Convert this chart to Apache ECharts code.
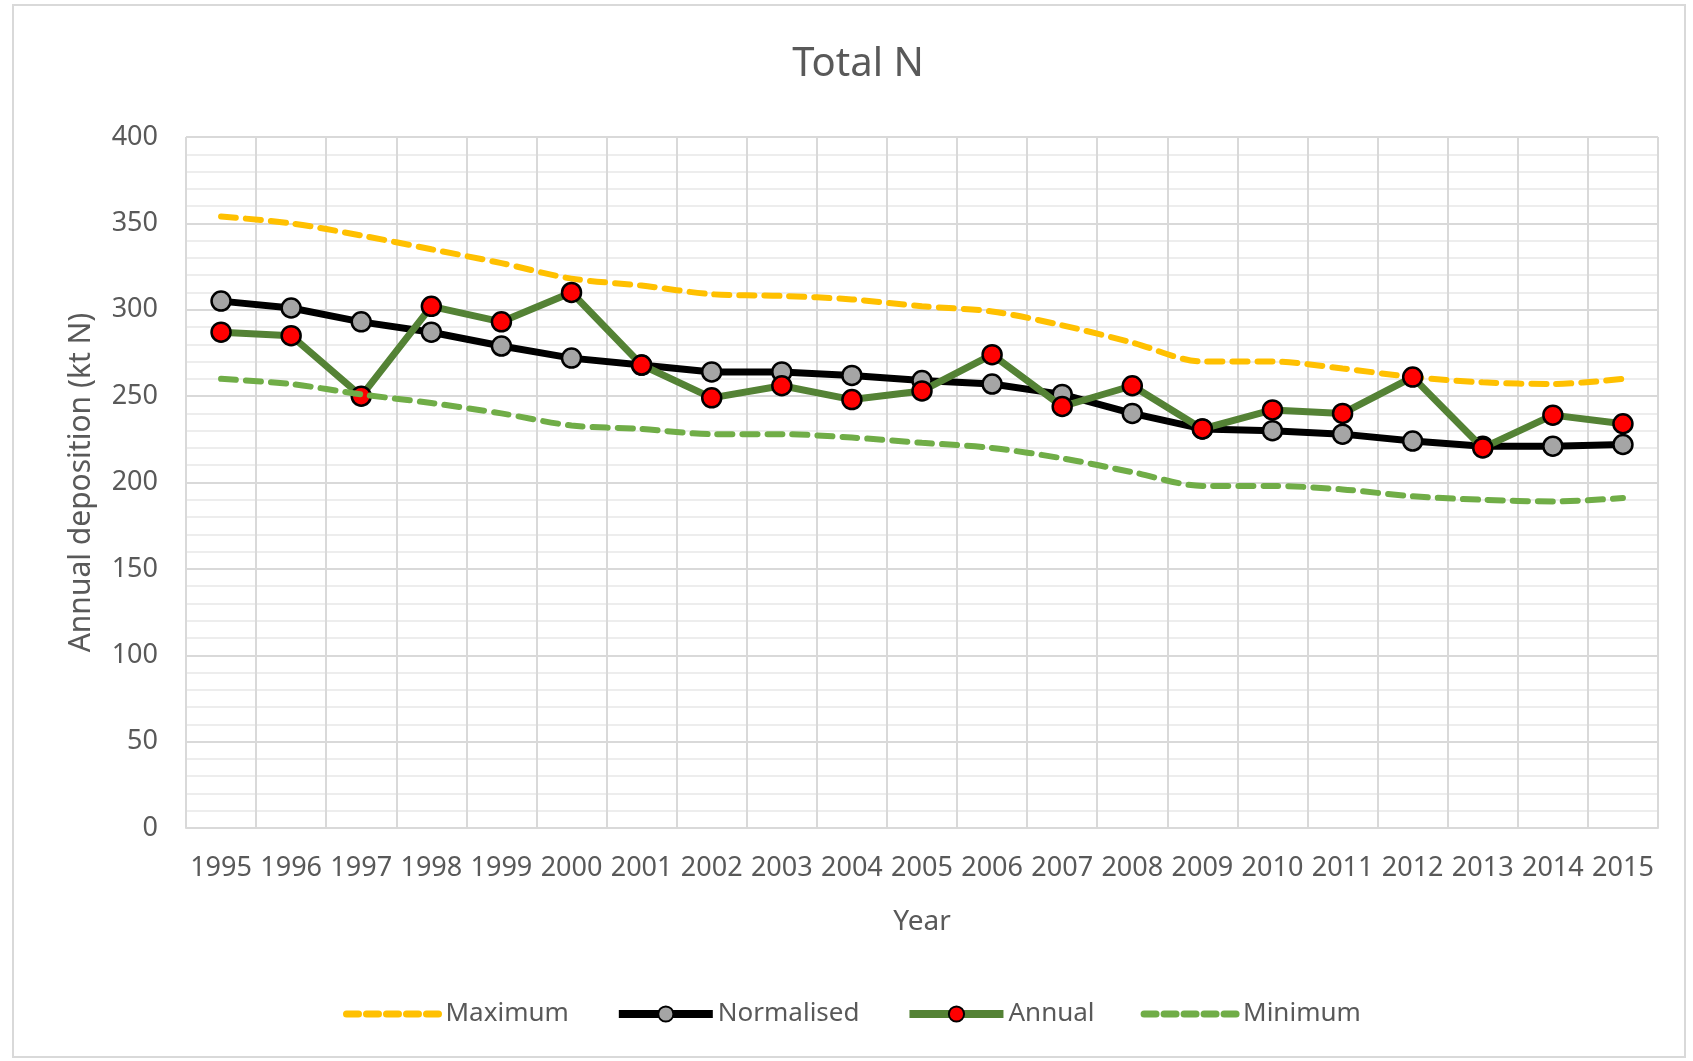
<!DOCTYPE html>
<html>
<head>
<meta charset="utf-8">
<title>Total N</title>
<script src="https://cdn.jsdelivr.net/npm/echarts@6/dist/echarts.min.js"></script>
<style>
    html, body { margin: 0; padding: 0; background: #fff; }
    #chart { width: 1693px; height: 1061px; }
</style>
</head>
<body>
<div id="chart"></div>
<script>
// values (kt N)
var years = ['1995','1996','1997','1998','1999','2000','2001','2002','2003','2004','2005',
             '2006','2007','2008','2009','2010','2011','2012','2013','2014','2015'];
var maximum    = [354, 350, 343, 335, 327, 318, 314, 309, 308, 306, 302, 299, 291, 281, 270, 270, 266, 261, 258, 257, 260];
var normalised = [305, 301, 293, 287, 279, 272, 268, 264, 264, 262, 259, 257, 251, 240, 231, 230, 228, 224, 221, 221, 222];
var annual     = [287, 285, 250, 302, 293, 310, 268, 249, 256, 248, 253, 274, 244, 256, 231, 242, 240, 261, 220, 239, 234];
var minimum    = [260, 257, 251, 246, 240, 233, 231, 228, 228, 226, 223, 220, 214, 206, 198, 198, 196, 192, 190, 189, 191];
var yTicks = { min: 0, max: 400, step: 50 };

// half-band categories, used only for the light grid lines through the points
var halfBands = [];
for (var i = 0; i < years.length * 2; i++) {
    halfBands.push(String(i));
}

var font = '"Noto Sans", "Open Sans", sans-serif';
var grey = '#595959';
var dash = [15, 10];

var myChart = echarts.init(document.getElementById('chart'));

var option = {
    backgroundColor: '#fff',
    animation: false,
    textStyle: { fontFamily: font },
    graphic: [{
        type: 'rect',
        shape: { x: 13, y: 5, width: 1672, height: 1052 },
        style: { fill: null, stroke: '#D9D9D9', lineWidth: 2 },
        silent: true,
        z: -1
    }],
    title: {
        text: 'Total N',
        left: 853,
        top: 40,
        textAlign: 'center',
        textStyle: { fontFamily: font, fontSize: 40, fontWeight: 'normal', color: grey }
    },
    legend: {
        left: 338,
        top: 996,
        itemWidth: 94,
        itemHeight: 19,
        itemGap: 46,
        textStyle: { fontFamily: font, fontSize: 26, color: grey },
        data: [
            // dashed series have no markers, so hide the legend dot
            { name: 'Maximum', itemStyle: { opacity: 0 }, lineStyle: { width: 7, type: [12, 8] } },
            { name: 'Normalised', lineStyle: { width: 8 } },
            { name: 'Annual', lineStyle: { width: 8 } },
            { name: 'Minimum', itemStyle: { opacity: 0 }, lineStyle: { width: 7, type: [12, 8] } }
        ]
    },
    grid: { left: 186, right: 35, top: 137, bottom: 233, containLabel: false },
    xAxis: [
        {
            type: 'category',
            data: years,
            boundaryGap: true,
            name: 'Year',
            nameLocation: 'middle',
            nameGap: 80,
            nameTextStyle: { fontFamily: font, fontSize: 28, color: grey },
            axisLine: { lineStyle: { color: '#D9D9D9', width: 2 } },
            axisTick: { show: false },
            axisLabel: { fontFamily: font, fontSize: 27, color: grey, margin: 27, interval: 0 },
            splitLine: { show: true, lineStyle: { color: '#D9D9D9', width: 2 } },
            z: 3
        },
        {
            // light lines through the category centres
            type: 'category',
            data: halfBands,
            boundaryGap: true,
            position: 'bottom',
            axisLine: { show: false },
            axisTick: { show: false },
            axisLabel: { show: false },
            splitLine: {
                show: true,
                interval: function (index) { return index % 2 === 0; },
                lineStyle: { color: '#ECECEC', width: 2 }
            },
            z: 1
        }
    ],
    yAxis: {
        type: 'value',
        min: yTicks.min,
        max: yTicks.max,
        interval: yTicks.step,
        name: 'Annual deposition (kt N)',
        nameLocation: 'middle',
        nameGap: 90,
        nameTextStyle: { fontFamily: font, fontSize: 30, color: grey },
        axisLine: { show: false },
        axisTick: { show: false },
        axisLabel: { fontFamily: font, fontSize: 27, color: grey, margin: 28 },
        splitLine: { show: true, lineStyle: { color: '#D9D9D9', width: 2 } },
        minorTick: { show: false, splitNumber: 5 },
        minorSplitLine: { show: true, lineStyle: { color: '#EDEDED', width: 2 } }
    },
    series: [
        {
            name: 'Maximum',
            type: 'line',
            data: maximum,
            smooth: 0.3,
            symbol: 'none',
            itemStyle: { color: '#FFC000' },
            lineStyle: { color: '#FFC000', width: 6, type: dash, cap: 'round' },
            z: 3
        },
        {
            name: 'Normalised',
            type: 'line',
            data: normalised,
            symbol: 'circle',
            symbolSize: 19,
            itemStyle: { color: '#A5A5A5', borderColor: '#000', borderWidth: 2.5 },
            lineStyle: { color: '#000', width: 7 },
            z: 4
        },
        {
            name: 'Annual',
            type: 'line',
            data: annual,
            symbol: 'circle',
            symbolSize: 19,
            itemStyle: { color: '#FF0000', borderColor: '#000', borderWidth: 2.5 },
            lineStyle: { color: '#548235', width: 7 },
            z: 5
        },
        {
            name: 'Minimum',
            type: 'line',
            data: minimum,
            smooth: 0.3,
            symbol: 'none',
            itemStyle: { color: '#70AD47' },
            lineStyle: { color: '#70AD47', width: 6, type: dash, cap: 'round' },
            z: 6
        }
    ]
};

myChart.setOption(option);
</script>
</body>
</html>
